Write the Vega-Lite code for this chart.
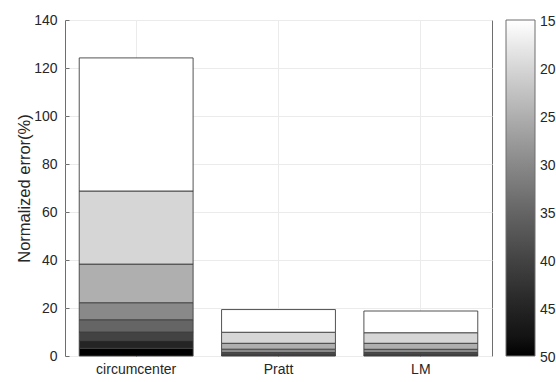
{
  "$schema": "https://vega.github.io/schema/vega-lite/v6.json",
  "width": 427,
  "height": 336,
  "autosize": {"type": "none"},
  "padding": {"left": 65, "top": 20, "right": 64, "bottom": 26},
  "background": "white",
  "config": {
    "font": "Liberation Sans",
    "view": {"stroke": "#6e6e6e", "strokeWidth": 1},
    "axis": {
      "labelFont": "Liberation Sans",
      "titleFont": "Liberation Sans",
      "labelColor": "#262626",
      "titleColor": "#262626",
      "labelFontSize": 14,
      "titleFontSize": 16.5,
      "titleFontWeight": "normal",
      "gridColor": "#ebebeb",
      "gridWidth": 1,
      "domain": false,
      "tickColor": "#6e6e6e"
    },
    "legend": {
      "labelFont": "Liberation Sans",
      "labelFontSize": 14,
      "labelColor": "#262626"
    }
  },
  "data": {
    "values": [
      {"method": "circumcenter", "snr": 50, "value": 3.2},
      {"method": "circumcenter", "snr": 45, "value": 3.2},
      {"method": "circumcenter", "snr": 40, "value": 3.6},
      {"method": "circumcenter", "snr": 35, "value": 5.1},
      {"method": "circumcenter", "snr": 30, "value": 7.1},
      {"method": "circumcenter", "snr": 25, "value": 16.1},
      {"method": "circumcenter", "snr": 20, "value": 30.45},
      {"method": "circumcenter", "snr": 15, "value": 55.45},
      {"method": "Pratt", "snr": 50, "value": 0.2},
      {"method": "Pratt", "snr": 45, "value": 0.3},
      {"method": "Pratt", "snr": 40, "value": 0.45},
      {"method": "Pratt", "snr": 35, "value": 0.5},
      {"method": "Pratt", "snr": 30, "value": 1.4},
      {"method": "Pratt", "snr": 25, "value": 2.45},
      {"method": "Pratt", "snr": 20, "value": 4.6},
      {"method": "Pratt", "snr": 15, "value": 9.45},
      {"method": "LM", "snr": 50, "value": 0.2},
      {"method": "LM", "snr": 45, "value": 0.3},
      {"method": "LM", "snr": 40, "value": 0.45},
      {"method": "LM", "snr": 35, "value": 0.5},
      {"method": "LM", "snr": 30, "value": 1.35},
      {"method": "LM", "snr": 25, "value": 2.5},
      {"method": "LM", "snr": 20, "value": 4.4},
      {"method": "LM", "snr": 15, "value": 9.05}
    ]
  },
  "mark": {"type": "bar", "stroke": "#404040", "strokeWidth": 0.9},
  "encoding": {
    "x": {
      "field": "method",
      "type": "nominal",
      "sort": ["circumcenter", "Pratt", "LM"],
      "scale": {"paddingInner": 0.2, "paddingOuter": 0.1},
      "axis": {
        "title": null,
        "labelAngle": 0,
        "grid": true,
        "bandPosition": 0.5,
        "ticks": true,
        "tickSize": -4,
        "labelPadding": 10
      }
    },
    "y": {
      "field": "value",
      "type": "quantitative",
      "aggregate": "sum",
      "stack": "zero",
      "scale": {"domain": [0, 140], "nice": false},
      "axis": {
        "title": "Normalized error(%)",
        "values": [0, 20, 40, 60, 80, 100, 120, 140],
        "grid": true,
        "tickSize": -4,
        "labelPadding": 12,
        "titleX": -41,
        "titleY": 168,
        "titleBaseline": "middle",
        "titleAlign": "center",
        "titleAngle": -90
      }
    },
    "color": {
      "field": "snr",
      "type": "quantitative",
      "scale": {"domain": [50, 15], "range": ["#000000", "#ffffff"]},
      "legend": {
        "title": null,
        "orient": "right",
        "offset": 14,
        "padding": 0,
        "direction": "vertical",
        "gradientLength": 336,
        "gradientThickness": 29,
        "gradientStrokeColor": "#6e6e6e",
        "gradientStrokeWidth": 1,
        "values": [15, 20, 25, 30, 35, 40, 45, 50],
        "labelOffset": 5,
        "labelOverlap": false,
        "encode": {
          "labels": {
            "update": {
              "baseline": {"value": "middle"},
              "dy": {"value": 2}
            }
          }
        }
      }
    },
    "order": {"field": "snr", "type": "quantitative", "sort": "descending"}
  }
}
